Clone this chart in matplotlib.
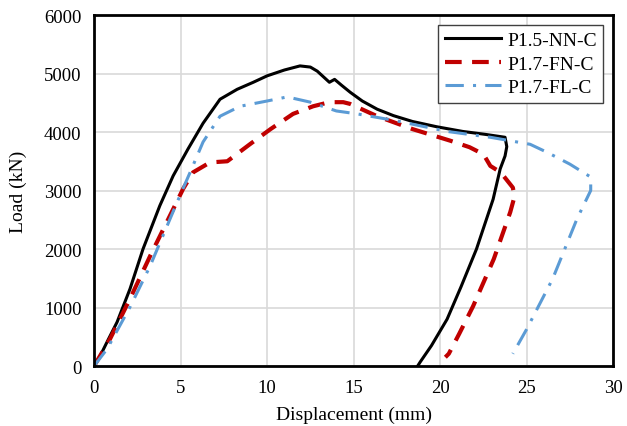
import numpy as np
import matplotlib.pyplot as plt

# curves (displacement mm, load kN)
nn_x = [0, 0.35, 0.8, 1.33, 2.08, 2.83, 3.8, 4.57, 5.43, 6.3, 7.28, 8.27, 9.2, 10.0, 11.0, 11.9, 12.5, 12.9,
        13.6, 13.9, 14.3, 14.8, 15.5, 16.36, 17.3, 18.4, 19.8, 21.3, 22.6, 23.75, 23.85, 23.75, 23.47, 23.06,
        22.1, 21.2, 20.4, 19.5, 18.85, 18.7]
nn_y = [0, 170, 440, 750, 1320, 2000, 2740, 3250, 3710, 4150, 4560, 4730, 4850, 4960, 5060, 5130, 5110, 5040,
        4850, 4900, 4800, 4680, 4530, 4390, 4280, 4180, 4090, 4010, 3960, 3910, 3750, 3590, 3370, 2850,
        2000, 1350, 800, 350, 70, 0]

fn_x = [0, 0.4, 0.92, 2.08, 3.24, 4.57, 5.15, 5.72, 6.7, 7.7, 9.0, 10.2, 11.5, 12.66, 13.6, 14.4, 14.8, 16.36,
        18.4, 20.6, 21.7, 22.5, 22.9, 23.5, 24.2, 24.3, 24.05, 23.1, 21.9, 21.1, 20.5, 20.3]
fn_y = [0, 200, 460, 1150, 1880, 2680, 3030, 3310, 3480, 3500, 3790, 4050, 4310, 4440, 4510, 4510, 4480, 4270,
        4050, 3850, 3740, 3620, 3420, 3310, 3050, 2900, 2630, 1830, 1020, 550, 210, 150]

fl_x = [0, 0.75, 2.1, 3.24, 4.8, 5.55, 6.3, 7.28, 8.44, 10.0, 11.16, 12.5, 14.0, 15.2, 17.5, 20.4, 22.9, 25.2,
        26.2, 27.5, 28.7, 28.7, 27.9, 26.5, 25.0, 24.2]
fl_y = [0, 290, 1020, 1710, 2800, 3310, 3830, 4270, 4440, 4530, 4600, 4510, 4360, 4310, 4190, 4010, 3910, 3790,
        3650, 3450, 3230, 3000, 2510, 1490, 630, 210]

plt.rcParams['font.family'] = ['Liberation Serif', 'DejaVu Serif']

fig = plt.figure(figsize=(6.27, 4.27), dpi=100)
ax = fig.add_axes([0.15, 0.1405, 0.828, 0.822])

ax.plot(nn_x, nn_y, color='black', lw=2.2, label='P1.5-NN-C')
ax.plot(fn_x, fn_y, color='#c00000', lw=3, ls=(0, (4, 2.5)), label='P1.7-FN-C')
ax.plot(fl_x, fl_y, color='#5b9bd5', lw=2.2, ls=(0, (6, 3, 1, 3)), label='P1.7-FL-C')

ax.set_xlim(0, 30)
ax.set_ylim(0, 6000)
ax.set_xticks(np.arange(0, 31, 5))
ax.set_yticks(np.arange(0, 6001, 1000))
ax.grid(color='#d9d9d9', lw=1.2)
ax.set_axisbelow(True)
ax.tick_params(length=0, labelsize=13.5, pad=9)
for s in ax.spines.values():
    s.set_linewidth(2)
    s.set_color('black')

ax.set_xlabel('Displacement (mm)', fontsize=14, labelpad=7)
ax.set_ylabel('Load (kN)', fontsize=14, labelpad=12)

leg = ax.legend(loc='upper right', fontsize=14, fancybox=False, framealpha=1,
                edgecolor='#404040', handlelength=2.9, borderaxespad=0.5, labelspacing=0.3,
                borderpad=0.35, handletextpad=0.3)
leg.get_frame().set_linewidth(1)

fig.savefig('out.png', dpi=100)
